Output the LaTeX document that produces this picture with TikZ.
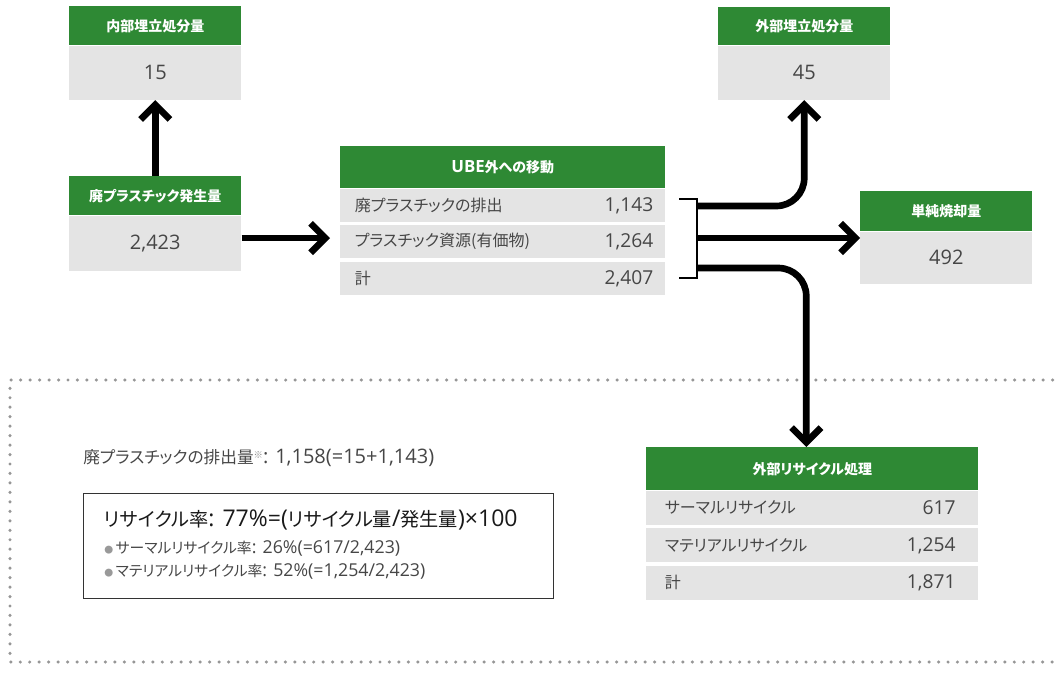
\documentclass[tikz,border=0pt]{standalone}
\usepackage{fontspec}
\setmainfont{Noto Sans CJK JP}[RawFeature=+palt]
\newfontfamily\latf{Open Sans}[Scale=1.2]
\newcommand\nm[1]{{\latf #1}}
\usetikzlibrary{positioning,arrows.meta}
\definecolor{hdgreen}{RGB}{46,137,52}
\definecolor{cellgray}{RGB}{228,228,228}
\definecolor{txtgray}{RGB}{70,70,70}
\definecolor{dotgray}{RGB}{150,150,150}
\tikzset{
  hdr/.style={fill=hdgreen, text=white, font=\bfseries\fontsize{10.5}{12}\selectfont, inner sep=0pt, minimum width=#1, anchor=north west},
  hdr/.default=129pt,
  valbox/.style={fill=cellgray, text=txtgray, font=\latf\fontsize{12.5}{15}\selectfont, inner sep=0pt, minimum width=129pt},
  rowbox/.style={fill=cellgray, text=txtgray, font=\fontsize{12}{14}\selectfont, inner ysep=0pt, align=left},
  rownum/.style={text=txtgray, font=\latf\fontsize{12}{14}\selectfont, inner sep=0pt, anchor=east},
  flow/.style={line width=5pt, -{Straight Barb[length=11pt,width=22pt]}},
  dotframe/.style={dotgray, line width=2.6pt, line cap=round, dash pattern=on 0pt off 7.1pt}
}
\begin{document}
\begin{tikzpicture}[x=0.75pt,y=0.75pt,yscale=-1,xscale=1]
\useasboundingbox (0,0) rectangle (1057,672);

%Shape: Dotted frame
\draw[dotframe] (1062,380) -- (10,380) -- (10,662) -- (1062,662);

% Box: inside landfill
\node[hdr, minimum height=29.25pt] (inHdr) at (69,6) {内部埋立処分量};
\node[valbox, minimum height=40.5pt, below=0pt of inHdr] (inBody) {15};
% Box: generated
\node[hdr, minimum height=29.25pt] (genHdr) at (69,176) {廃プラスチック発生量};
\node[valbox, minimum height=41.25pt, below=0pt of genHdr] (genBody) {2,423};
% Box: outside landfill
\node[hdr, minimum height=28.5pt] (exHdr) at (718,7) {外部埋立処分量};
\node[valbox, minimum height=40.5pt, below=0pt of exHdr] (exBody) {45};
% Box: incineration
\node[hdr, minimum height=30pt] (burnHdr) at (860,191) {単純焼却量};
\node[valbox, minimum height=39pt, below=0pt of burnHdr] (burnBody) {492};

% Table: transfer outside UBE
\node[hdr=243.75pt, minimum height=31.5pt] (ubeHdr) at (340,146) {\nm{UBE}外への移動};
\node[rowbox, text width=221.75pt, inner xsep=11pt, minimum height=24.75pt, below=0pt of ubeHdr] (ubeR1) {廃プラスチックの排出};
\node[rowbox, text width=221.75pt, inner xsep=11pt, minimum height=24.75pt, below=2.25pt of ubeR1] (ubeR2) {プラスチック資源(有価物)};
\node[rowbox, text width=221.75pt, inner xsep=11pt, minimum height=24.75pt, below=2.25pt of ubeR2] (ubeR3) {計};
\node[rownum] (ubeV1) at ([xshift=-9pt]ubeR1.east) {1,143};
\node[rownum] (ubeV2) at ([xshift=-9pt]ubeR2.east) {1,264};
\node[rownum] (ubeV3) at ([xshift=-9pt]ubeR3.east) {2,407};

% Table: outside recycling
\node[hdr=249pt, minimum height=32.25pt] (rcHdr) at (646,447) {外部リサイクル処理};
\node[rowbox, text width=221pt, inner xsep=14pt, minimum height=25.5pt, below=0pt of rcHdr] (rcR1) {サーマルリサイクル};
\node[rowbox, text width=221pt, inner xsep=14pt, minimum height=25.5pt, below=2.25pt of rcR1] (rcR2) {マテリアルリサイクル};
\node[rowbox, text width=221pt, inner xsep=14pt, minimum height=25.5pt, below=2.25pt of rcR2] (rcR3) {計};
\node[rownum] (rcV1) at ([xshift=-17pt]rcR1.east) {617};
\node[rownum] (rcV2) at ([xshift=-17pt]rcR2.east) {1,254};
\node[rownum] (rcV3) at ([xshift=-17pt]rcR3.east) {1,871};

% Bracket
\coordinate (brTop) at (679,199);
\coordinate (brBot) at (679,278);
\coordinate (brA) at (697,206);
\coordinate (brM) at (697,238);
\coordinate (brB) at (697,268);
\draw[line width=1.2pt] (brTop) -- (brTop -| brA) -- (brBot -| brA) -- (brBot);

% Arrows
\draw[flow] (genHdr.north) -- (inBody.south);
\draw[flow] (genBody.east |- brM) -- ([xshift=-7.5pt]ubeR2.west |- brM);
\draw[flow, rounded corners=21pt] (brA) -| (exBody.south);
\draw[flow] (brM) -- (brM -| burnBody.west);
\draw[flow, rounded corners=21pt] (brB) -| ([xshift=-4.5pt]rcHdr.north);

% Text Node
\node[anchor=west, text=txtgray, font=\fontsize{12.5}{15}\selectfont, inner sep=0pt] (note) at (83,458) {廃プラスチックの排出量{\fontsize{7}{8}\selectfont\color{black!45}\raisebox{4pt}{※}}\nm{: 1,158(=15+1,143)}};

%Shape: Rectangle
\node[draw=black!80, line width=0.8pt, minimum width=352.5pt, minimum height=78.75pt, inner sep=0pt, anchor=north west] (rateBox) at (83,493) {};
% Text Node
\node[anchor=west, text=black!90, font=\fontsize{14.4}{17}\selectfont, inner sep=0pt] (rateTtl) at (104,520) {リサイクル率\nm{: 77\%=(}リサイクル量\nm{/}発生量\nm{)×100}};
% Text Node
\node[anchor=west, text=txtgray, font=\fontsize{11.1}{13}\selectfont, inner sep=0pt] (rateA) at (104,548) {{\color{black!40}\scalebox{0.6}{●}}\hspace{2pt}サーマルリサイクル率\nm{: 26\%(=617/2,423)}};
% Text Node
\node[anchor=west, text=txtgray, font=\fontsize{11.1}{13}\selectfont, inner sep=0pt] (rateB) at (104,571) {{\color{black!40}\scalebox{0.6}{●}}\hspace{2pt}マテリアルリサイクル率\nm{: 52\%(=1,254/2,423)}};
\end{tikzpicture}
\end{document}
